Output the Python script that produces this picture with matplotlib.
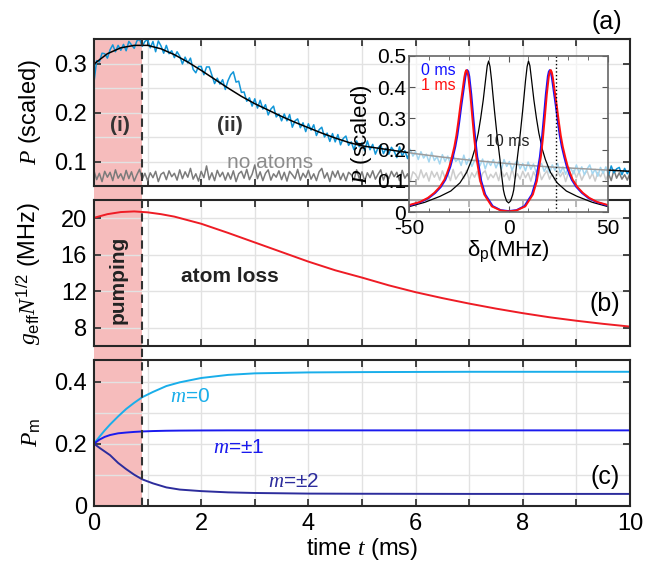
import numpy as np
import matplotlib
matplotlib.use("Agg")
import matplotlib.pyplot as plt
from matplotlib.patches import Rectangle
from matplotlib.lines import Line2D
from matplotlib.transforms import blended_transform_factory

plt.rcParams['font.family'] = 'Liberation Sans'
plt.rcParams['mathtext.fontset'] = 'custom'
plt.rcParams['mathtext.it'] = 'Liberation Serif:italic'
plt.rcParams['mathtext.rm'] = 'Liberation Sans'
plt.rcParams['axes.unicode_minus'] = False

# ---- panel (a): transmission vs time ----
t_trace = np.linspace(0, 10, 201)
p_atoms = np.array([
    262, 306, 303, 321, 320, 311, 328, 338, 324, 337,
    327, 339, 326, 345, 338, 331, 346, 350, 335, 345,
    349, 332, 345, 324, 346, 336, 321, 337, 320, 326,
    312, 324, 315, 299, 313, 301, 311, 288, 281, 294,
    294, 277, 293, 293, 276, 259, 270, 258, 267, 247,
    265, 277, 283, 262, 264, 241, 242, 223, 230, 213,
    228, 209, 225, 207, 216, 195, 207, 213, 191, 197,
    183, 197, 183, 196, 170, 183, 187, 169, 179, 161,
    177, 164, 175, 153, 165, 170, 150, 158, 141, 157,
    140, 155, 134, 147, 152, 133, 140, 124, 142, 130,
    138, 122, 142, 124, 135, 115, 128, 134, 116, 127,
    115, 129, 121, 108, 130, 111, 122, 106, 125, 111,
    120, 104, 120, 107, 115, 99, 119, 102, 110, 95,
    114, 100, 111, 95, 113, 100, 106, 92, 113, 94,
    106, 90, 102, 108, 91, 105, 85, 101, 92, 104,
    87, 100, 83, 104, 90, 100, 82, 95, 102, 85,
    96, 81, 99, 84, 95, 78, 90, 96, 80, 91,
    77, 93, 82, 96, 77, 89, 74, 89, 85, 75,
    93, 77, 89, 73, 85, 93, 75, 84, 70, 88,
    76, 89, 72, 91, 77, 85, 88, 73, 86, 75, 84]) / 1000
p_noatoms = np.array([
    81, 63, 76, 59, 80, 68, 78, 61, 83, 66,
    75, 62, 82, 65, 79, 60, 73, 84, 64, 76,
    61, 77, 67, 80, 59, 74, 78, 63, 81, 69,
    76, 62, 83, 65, 79, 68, 86, 64, 75, 60,
    80, 67, 91, 63, 77, 61, 82, 69, 78, 62,
    77, 64, 81, 59, 75, 80, 66, 84, 63, 74,
    93, 65, 79, 61, 76, 83, 62, 75, 68, 81,
    63, 78, 60, 80, 73, 65, 84, 62, 76, 67,
    82, 64, 75, 61, 79, 86, 66, 77, 59, 80,
    68, 81, 63, 76, 61, 78, 73, 62, 83, 65,
    79, 60, 77, 67, 81, 64, 74, 83, 62, 76,
    65, 80, 69, 78, 61, 82, 66, 75, 59, 79,
    74, 63, 83, 67, 77, 60, 80, 68, 78, 62,
    81, 66, 75, 61, 84, 64, 73, 79, 65, 82,
    62, 77, 68, 80, 59, 76, 81, 63, 74, 67,
    78, 61, 82, 69, 77, 62, 85, 65, 75, 64,
    80, 67, 77, 60, 79, 68, 83, 63, 73, 81,
    64, 76, 61, 80, 69, 78, 59, 77, 66, 82,
    67, 79, 62, 74, 81, 65, 76, 60, 78, 69,
    80, 63, 75, 61, 83, 66, 77, 64, 73, 62, 76]) / 1000

t_fit = [0, 0.25, 0.5, 0.75, 1.0, 1.25, 1.5, 1.75, 2.0, 2.25, 2.5, 2.75, 3.0,
         3.25, 3.5, 3.75, 4.0, 4.25, 4.5, 4.75, 5.0, 5.5, 6.0, 6.5, 7.0, 7.5,
         8.0, 8.5, 9.0, 9.5, 10.0]
p_fit = [0.299, 0.320, 0.332, 0.337, 0.337, 0.330, 0.318, 0.303, 0.286, 0.268,
         0.250, 0.233, 0.218, 0.205, 0.192, 0.180, 0.169, 0.158, 0.148, 0.139,
         0.132, 0.124, 0.116, 0.109, 0.103, 0.098, 0.093, 0.089, 0.086, 0.083,
         0.080]

# ---- inset: spectra ----
d_0ms = [-50, -44, -40, -36.8, -34, -31.7, -30.5, -29.2, -28, -26.7, -25.7, -24.7,
         -23.7, -22.7, -21.7, -21.2, -20.7, -20.2, -19.7, -18.7, -17.7, -16.7,
         -15.7, -13.7, -11.7, -8, -4, 0, 4, 8, 11.7, 13.7, 15.7, 16.7, 17.7, 18.7,
         19.7, 20.2, 20.7, 21.2, 21.7, 22.7, 23.7, 24.7, 25.7, 26.7, 28, 29.2,
         30.5, 31.7, 34, 36.8, 40, 44, 50]
s_0ms = [0.021, 0.033, 0.046, 0.062, 0.081, 0.104, 0.123, 0.146, 0.175, 0.210,
         0.245, 0.290, 0.340, 0.385, 0.431, 0.447, 0.454, 0.449, 0.434, 0.377,
         0.304, 0.234, 0.177, 0.100, 0.057, 0.020, 0.007, 0.004, 0.007, 0.020,
         0.057, 0.100, 0.177, 0.234, 0.304, 0.377, 0.434, 0.449, 0.454, 0.447,
         0.431, 0.385, 0.340, 0.290, 0.245, 0.210, 0.175, 0.146, 0.123, 0.104,
         0.081, 0.062, 0.046, 0.033, 0.021]
d_1ms = [-50, -44.5, -40.5, -37.3, -34.5, -32.2, -31, -29.7, -28.5, -27.2, -26.2,
         -25.2, -24.2, -23.2, -22.2, -21.7, -21.2, -20.7, -20.2, -19.2, -18.2,
         -17.2, -16.2, -14.2, -12.2, -8.4, -4, 0, 4, 8.4, 12.2, 14.2, 16.2, 17.2,
         18.2, 19.2, 20.2, 20.7, 21.2, 21.7, 22.2, 23.2, 24.2, 25.2, 26.2, 27.2,
         28.5, 29.7, 31, 32.2, 34.5, 37.3, 40.5, 44.5, 50]
s_1ms = [0.023, 0.033, 0.046, 0.062, 0.081, 0.104, 0.123, 0.146, 0.175, 0.210,
         0.245, 0.290, 0.340, 0.385, 0.431, 0.447, 0.454, 0.449, 0.434, 0.377,
         0.304, 0.234, 0.177, 0.100, 0.057, 0.019, 0.006, 0.003, 0.006, 0.019,
         0.057, 0.100, 0.177, 0.234, 0.304, 0.377, 0.434, 0.449, 0.454, 0.447,
         0.431, 0.385, 0.340, 0.290, 0.245, 0.210, 0.175, 0.146, 0.123, 0.104,
         0.081, 0.062, 0.046, 0.033, 0.023]
d_10ms = [-50, -42, -34.4, -29, -24.4, -21, -18.5, -17, -15.2, -14, -12.7, -11.5,
          -10.7, -10, -9.3, -8.5, -7.6, -7, -5.9, -5, -4.3, -3.5, -2.6, -2, -1, 0,
          1, 2, 2.6, 3.5, 4.3, 5, 5.9, 7, 7.6, 8.5, 9.3, 10, 10.7, 11.5, 12.7, 14,
          15.2, 17, 18.5, 21, 24.4, 29, 34.4, 42, 50]
s_10ms = [0.018, 0.032, 0.051, 0.068, 0.094, 0.128, 0.168, 0.200, 0.253, 0.300,
          0.359, 0.425, 0.468, 0.483, 0.465, 0.420, 0.359, 0.320, 0.253, 0.205,
          0.168, 0.120, 0.072, 0.055, 0.036, 0.030, 0.036, 0.055, 0.072, 0.120,
          0.168, 0.205, 0.253, 0.320, 0.359, 0.420, 0.465, 0.483, 0.468, 0.425,
          0.359, 0.300, 0.253, 0.200, 0.168, 0.128, 0.094, 0.068, 0.051, 0.032,
          0.018]
d_probe = 24

# ---- panel (b): collective coupling ----
t_g = [0, 0.25, 0.5, 0.75, 1.0, 1.25, 1.5, 2.0, 2.5, 3.0, 3.5, 4.0, 4.5, 5.0,
       5.5, 6.0, 6.5, 7.0, 7.5, 8.0, 8.5, 9.0, 9.5, 10.0]
g_eff = [20.05, 20.45, 20.68, 20.75, 20.65, 20.45, 20.18, 19.4, 18.4, 17.35,
         16.3, 15.25, 14.3, 13.5, 12.65, 11.9, 11.25, 10.65, 10.1, 9.6, 9.15,
         8.77, 8.43, 8.13]

# ---- panel (c): populations ----
t_m = [0, 0.1, 0.2, 0.3, 0.45, 0.6, 0.75, 0.9, 1.1, 1.35, 1.6, 2.0, 2.5, 3.0,
       4.0, 5.0, 7.0, 10.0]
pm_0 = [0.200, 0.222, 0.243, 0.262, 0.288, 0.312, 0.332, 0.350, 0.367, 0.386,
        0.398, 0.412, 0.422, 0.427, 0.430, 0.431, 0.432, 0.432]
pm_1 = [0.200, 0.213, 0.222, 0.228, 0.2335, 0.236, 0.238, 0.2395, 0.2408,
        0.2418, 0.2423, 0.2427, 0.243, 0.243, 0.243, 0.243, 0.243, 0.243]
pm_2 = [0.200, 0.187, 0.175, 0.163, 0.138, 0.118, 0.100, 0.085, 0.072, 0.059,
        0.052, 0.047, 0.043, 0.041, 0.039, 0.0385, 0.038, 0.038]

t_pump = 0.9

fig = plt.figure(figsize=(6.46, 5.62), dpi=100)
left, width = 0.1455, 0.8297
ax_a = fig.add_axes([left, 0.669, width, 0.2616])
ax_b = fig.add_axes([left, 0.3843, width, 0.2598])
ax_c = fig.add_axes([left, 0.1002, width, 0.2592])

dark = '#262626'
for ax in (ax_a, ax_b, ax_c):
    ax.set_facecolor('none')
    ax.set_xlim(0, 10)
    ax.set_xticks(np.arange(0, 11, 1))
    ax.grid(True, which='both', color='#e2e2e2', lw=1)
    ax.set_axisbelow(True)
    ax.tick_params(which='major', direction='in', top=True, right=True,
                   length=5, width=1.2, color=dark, labelsize=17, pad=5)
    ax.tick_params(which='minor', length=0)
    for s in ax.spines.values():
        s.set_linewidth(1.5)
        s.set_color(dark)
    ax.yaxis.set_label_coords(-0.095, 0.5)

ax_a.tick_params(labelbottom=False)
ax_b.tick_params(labelbottom=False)
ax_c.set_xticklabels(['0', '', '2', '', '4', '', '6', '', '8', '', '10'])

# pumping window across all panels
y_bot = ax_c.get_position().y0
y_top = ax_a.get_position().y1
trans = blended_transform_factory(ax_c.transData, fig.transFigure)
fig.add_artist(Rectangle((0, y_bot), t_pump, y_top - y_bot, transform=trans,
                         facecolor='#f6bcbc', edgecolor='none', zorder=-1))
fig.add_artist(Line2D([t_pump, t_pump], [y_bot, y_top], transform=trans,
                      color='#333333', lw=1.5, ls=(0, (4, 2.5)), zorder=3))

# (a)
ax_a.plot(t_trace, p_noatoms, color='#7b7b7b', lw=1.1)
ax_a.plot(t_trace, p_atoms, color='#1196d8', lw=1.1)
ax_a.plot(t_fit, p_fit, color='black', lw=1.1)
ax_a.set_ylim(0.05, 0.35)
ax_a.set_yticks([0.1, 0.2, 0.3])
ax_a.set_yticks(np.arange(0.05, 0.36, 0.05), minor=True)
ax_a.set_ylabel(r'$P$ (scaled)', fontsize=17)
ax_a.text(0.48, 0.173, '(i)', fontsize=15, fontweight='bold', ha='center',
          va='center', color='#333333')
ax_a.text(2.54, 0.173, '(ii)', fontsize=15, fontweight='bold', ha='center',
          va='center', color='#333333')
ax_a.text(3.28, 0.099, 'no atoms', fontsize=15, ha='center', va='center',
          color='#8c8c8c')
fig.text(0.939, 0.961, '(a)', fontsize=18, ha='center', va='center')

# (b)
ax_b.plot(t_g, g_eff, color='#ee1c25', lw=1.4)
ax_b.set_ylim(6, 22)
ax_b.set_yticks([8, 12, 16, 20])
ax_b.set_ylabel(r'$g_{\mathrm{eff}}N^{1/2}$ (MHz)', fontsize=17)
ax_b.text(0.45, 13.3, 'pumping', rotation=90, fontsize=15, fontweight='bold',
          ha='center', va='center', color='#222222')
ax_b.text(2.54, 13.6, 'atom loss', fontsize=15, fontweight='bold',
          ha='center', va='center', color='#222222')
ax_b.text(0.953, 0.29, '(b)', transform=ax_b.transAxes, fontsize=18,
          ha='center', va='center')

# (c)
c0, c1, c2 = '#19aeea', '#1a1aee', '#2c2c9c'
ax_c.plot(t_m, pm_0, color=c0, lw=1.4)
ax_c.plot(t_m, pm_1, color=c1, lw=1.4)
ax_c.plot(t_m, pm_2, color=c2, lw=1.4)
ax_c.set_ylim(0, 0.47)
ax_c.set_yticks([0, 0.2, 0.4])
ax_c.set_yticklabels(['0', '0.2', '0.4'])
ax_c.set_yticks([0.1, 0.3], minor=True)
ax_c.set_ylabel(r'$P_{\mathrm{m}}$', fontsize=17)
ax_c.set_xlabel(r'time $t$ (ms)', fontsize=17, labelpad=1)
ax_c.text(1.8, 0.352, r'$m$=0', color=c0, fontsize=15, ha='center', va='center')
ax_c.text(2.7, 0.187, r'$m$=±1', color=c1, fontsize=15, ha='center', va='center')
ax_c.text(3.72, 0.079, r'$m$=±2', color=c2, fontsize=15, ha='center', va='center')
ax_c.text(0.953, 0.2, '(c)', transform=ax_c.transAxes, fontsize=18,
          ha='center', va='center')

# inset
ax_in = fig.add_axes([0.633, 0.6222, 0.3085, 0.2787], zorder=5)
ax_in.set_facecolor((1, 1, 1, 0.62))
ax_in.plot(d_10ms, s_10ms, color='black', lw=0.9)
ax_in.plot(d_0ms, s_0ms, color='#1010ff', lw=1.4)
ax_in.plot(d_1ms, s_1ms, color='#ff1010', lw=1.4)
ax_in.axvline(d_probe, color='black', ls=':', lw=1)
ax_in.set_xlim(-50, 50)
ax_in.set_ylim(0, 0.5)
ax_in.set_xticks([-50, 0, 50])
ax_in.set_xticks(np.arange(-40, 50, 10), minor=True)
ax_in.set_yticks(np.arange(0, 0.51, 0.1))
ax_in.set_yticklabels(['0', '0.1', '0.2', '0.3', '0.4', '0.5'])
ax_in.tick_params(which='both', direction='in', top=True, right=True,
                  color='#555555', labelsize=15)
ax_in.tick_params(axis='y', pad=2)
ax_in.tick_params(axis='x', pad=5)
ax_in.tick_params(which='major', length=4)
ax_in.tick_params(which='minor', length=3)
for s in ax_in.spines.values():
    s.set_color('#666666')
    s.set_linewidth(1.2)
ax_in.set_xlabel('δ$_{\\mathrm{p}}$(MHz)', fontsize=16, labelpad=0)
ax_in.set_ylabel(r'$P$ (scaled)', fontsize=16, labelpad=2)
ax_in.text(-44, 0.454, '0 ms', color='#1010ff', fontsize=11.5, va='center')
ax_in.text(-44, 0.406, '1 ms', color='#ff1010', fontsize=11.5, va='center')
ax_in.text(-0.6, 0.226, '10 ms', color='#222222', fontsize=11.5,
           ha='center', va='center')

fig.savefig('out.png', dpi=100)
